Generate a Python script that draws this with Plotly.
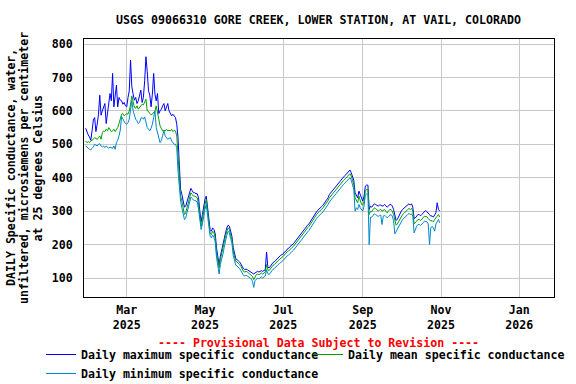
import pandas as pd
import plotly.graph_objects as go

start_date = "2025-01-28"

mean_vals = [
    510, 505, 508, 505, 510, 512, 515, 520, 518, 515,
    520, 525, 515, 535, 540, 538, 545, 540, 550, 545,
    538, 540, 545, 538, 545, 550, 562, 575, 590, 592,
    585, 588, 592, 590, 600, 620, 645, 628, 610, 608,
    615, 605, 610, 612, 620, 618, 625, 635, 600, 598,
    592, 588, 590, 595, 600, 615, 590, 575, 555, 545,
    540, 542, 540, 545, 540, 542, 540, 545, 538, 542,
    540, 525, 470, 390, 345, 330, 305, 290, 295, 310,
    330, 345, 355, 350, 345, 345, 343, 340, 320, 285,
    255, 275, 300, 320, 335, 300, 260, 235, 230, 240,
    235, 220, 175, 150, 130, 155, 175, 185, 205, 225,
    240, 250, 245, 230, 215, 180, 160, 150, 148, 145,
    140, 135, 125, 120, 118, 120, 118, 115, 112, 110,
    105, 95, 105, 110, 112, 110, 112, 115, 112, 115,
    118, 140, 125, 122, 128, 135, 138, 140, 145, 150,
    152, 155, 160, 162, 165, 170, 172, 178, 180, 185,
    188, 192, 195, 200, 205, 212, 218, 222, 228, 232,
    236, 240, 245, 250, 254, 260, 268, 275, 282, 286,
    290, 295, 298, 302, 306, 310, 315, 320, 326, 332,
    340, 345, 350, 355, 360, 365, 370, 375, 380, 385,
    388, 392, 396, 400, 405, 410, 412, 405, 395, 380,
    340, 330, 325, 345, 330, 320, 318, 330, 360, 365,
    365, 290, 300, 298, 305, 310, 308, 305, 300, 303,
    305, 300, 302, 305, 300, 295, 300, 305, 305, 300,
    290, 268, 258, 262, 270, 275, 285, 290, 293, 298,
    302, 305, 308, 305, 308, 300, 262, 265, 270, 275,
    275, 272, 275, 280, 285, 285, 283, 278, 275, 270,
    272, 268, 275, 280, 285, 290, 282,
]

max_vals = [
    548, 535, 528, 522, 512, 540, 573, 580, 538, 560,
    590, 647, 587, 600, 610, 622, 562, 590, 632, 652,
    630, 712, 612, 640, 677, 612, 640, 632, 630, 620,
    625, 615, 612, 640, 660, 752, 672, 650, 632, 640,
    622, 630, 645, 662, 625, 640, 690, 762, 717, 660,
    647, 612, 650, 712, 650, 630, 652, 592, 600, 605,
    615, 622, 600, 610, 622, 600, 590, 585, 590, 585,
    580, 560, 520, 440, 365, 350, 325, 312, 315, 330,
    345, 360, 368, 362, 355, 355, 352, 352, 340, 300,
    268, 290, 315, 335, 345, 315, 272, 245, 240, 250,
    245, 232, 190, 160, 140, 165, 185, 195, 215, 235,
    250, 258, 255, 240, 225, 192, 168, 158, 155, 152,
    148, 142, 132, 128, 125, 127, 125, 122, 120, 118,
    115, 112, 115, 118, 120, 118, 120, 122, 120, 122,
    125, 178, 133, 130, 135, 142, 146, 148, 152, 158,
    160, 163, 168, 170, 172, 178, 180, 186, 188, 193,
    196, 200, 203, 208, 213, 220, 226, 230, 236, 240,
    244, 248, 253, 258, 262, 268, 276, 283, 290, 294,
    298, 303, 306, 310, 314, 318, 323, 328, 334, 340,
    350, 355, 360, 365, 370, 375, 380, 385, 390, 395,
    398, 402, 406, 410, 415, 420, 423, 415, 405, 392,
    355, 345, 340, 360, 348, 335, 330, 345, 375, 378,
    378, 305, 315, 312, 318, 322, 320, 318, 315, 318,
    318, 315, 316, 320, 315, 312, 315, 320, 320, 315,
    305, 282, 272, 276, 285, 290, 300, 305, 308, 312,
    315, 318, 322, 318, 322, 312, 278, 280, 284, 290,
    290, 286, 290, 295, 300, 302, 298, 292, 290, 285,
    286, 282, 290, 295, 325, 305, 300,
]

min_vals = [
    495, 490, 488, 485, 483, 488, 492, 500, 498, 495,
    500, 502, 495, 492, 495, 490, 495, 490, 488, 492,
    490, 488, 495, 485, 505, 512, 525, 543, 583, 575,
    570, 562, 560, 565, 575, 612, 630, 600, 585, 575,
    570, 562, 565, 578, 580, 575, 582, 560, 550, 545,
    540, 548, 560, 580, 600, 550, 535, 520, 505, 512,
    530, 540, 525, 520, 515, 518, 520, 510, 505, 500,
    500, 490, 420, 360, 330, 310, 290, 275, 280, 295,
    315, 332, 342, 338, 333, 332, 330, 328, 305, 270,
    245, 262, 288, 305, 320, 288, 248, 225, 220, 228,
    222, 208, 162, 135, 112, 140, 162, 172, 192, 212,
    228, 240, 235, 218, 205, 168, 148, 138, 136, 133,
    128, 122, 113, 108, 106, 108, 106, 103, 100, 98,
    90, 72, 92, 98, 100, 98, 100, 103, 100, 103,
    106, 125, 113, 110, 116, 123, 126, 128, 133, 138,
    140, 143, 148, 150, 153, 158, 160, 166, 168, 173,
    176, 180, 183, 188, 193, 200, 206, 210, 216, 220,
    224, 228, 233, 238, 242, 248, 256, 263, 270, 274,
    278, 283, 286, 290, 294, 298, 303, 308, 314, 320,
    328, 333, 338, 343, 348, 353, 358, 363, 368, 373,
    376, 380, 384, 388, 393, 398, 400, 393, 382, 365,
    300, 310, 305, 320, 310, 305, 300, 315, 348, 352,
    350, 200, 282, 282, 288, 292, 290, 288, 284, 287,
    288, 260, 285, 288, 284, 280, 284, 288, 290, 285,
    272, 232, 240, 248, 255, 260, 270, 275, 278, 283,
    287, 290, 293, 290, 292, 285, 235, 248, 255, 260,
    260, 257, 260, 265, 270, 270, 268, 262, 200, 250,
    255, 250, 240, 262, 270, 275, 265,
]

tick_dates = ["2025-03-01", "2025-05-01", "2025-07-01", "2025-09-01", "2025-11-01", "2026-01-01"]
tick_labels = ["Mar<br>2025", "May<br>2025", "Jul<br>2025", "Sep<br>2025", "Nov<br>2025", "Jan<br>2026"]
y_ticks = [100, 200, 300, 400, 500, 600, 700, 800]

dates = pd.date_range(start_date, periods=len(mean_vals), freq="D")

FONT = "DejaVu Sans Mono"
FS = 11.6
L, R, T, B = 84, 22, 39, 87
PW, PH = 576 - L - R, 384 - T - B

fig = go.Figure()
fig.add_trace(go.Scatter(x=dates, y=max_vals, mode="lines", name="Daily maximum specific conductance",
                         line=dict(color="#0000ff", width=1)))
fig.add_trace(go.Scatter(x=dates, y=mean_vals, mode="lines", name="Daily mean specific conductance",
                         line=dict(color="#00a000", width=1)))
fig.add_trace(go.Scatter(x=dates, y=min_vals, mode="lines", name="Daily minimum specific conductance",
                         line=dict(color="#0088cc", width=1)))

fig.update_layout(
    width=576, height=384,
    margin=dict(l=L, r=R, t=T, b=B, autoexpand=False),
    paper_bgcolor="white", plot_bgcolor="white",
    font=dict(family=FONT, size=FS, color="black", weight="bold"),
    title=dict(text="USGS 09066310 GORE CREEK, LOWER STATION, AT VAIL, COLORADO",
               x=318.5 / 576, xanchor="center", y=1 - 20 / 384, yanchor="middle",
               font=dict(family=FONT, size=FS, color="black", weight="bold")),
    showlegend=True,
    legend=dict(orientation="h", x=(41 - L) / PW, xanchor="left", y=(297 - 340) / PH, yanchor="top",
                font=dict(family=FONT, size=FS, color="black", weight="bold"),
                entrywidth=222, entrywidthmode="pixels", itemwidth=30,
                bgcolor="rgba(0,0,0,0)", tracegroupgap=0),
)

fig.update_xaxes(
    type="date", range=["2025-01-26 17:00", "2026-01-28 01:00"],
    tickvals=tick_dates, ticktext=tick_labels,
    showgrid=True, gridcolor="#c8c8c8", gridwidth=1,
    showline=True, linecolor="black", linewidth=1, mirror=True,
    ticks="outside", ticklen=2, tickcolor="rgba(0,0,0,0)",
    zeroline=False,
)
fig.update_yaxes(
    range=[43.2, 815], tickvals=y_ticks,
    showgrid=True, gridcolor="#c8c8c8", gridwidth=1,
    showline=True, linecolor="black", linewidth=1, mirror=True,
    ticks="outside", ticklen=8, tickcolor="rgba(0,0,0,0)",
    zeroline=False,
)

ylab_lines = ["DAILY Specific conductance, water,",
              "unfiltered, microsiemens per centimeter",
              "at 25 degrees Celsius"]
ylab_centers = [11, 24, 37.5]
for txt, cx in zip(ylab_lines, ylab_centers):
    fig.add_annotation(text=txt, xref="paper", yref="paper", x=0, y=0.5,
                       xanchor="center", yanchor="middle", xshift=cx - L,
                       textangle=-90, showarrow=False,
                       font=dict(family=FONT, size=FS, color="black", weight="bold"))

fig.add_annotation(text="---- Provisional Data Subject to Revision ----",
                   xref="paper", yref="paper", x=(318 - L) / PW, y=(297 - 342.7) / PH,
                   xanchor="center", yanchor="middle", showarrow=False,
                   font=dict(family=FONT, size=FS, color="red", weight="bold"))

fig.write_html("out.html", config={"displayModeBar": False},
               post_script="document.body.style.margin='0px';")
